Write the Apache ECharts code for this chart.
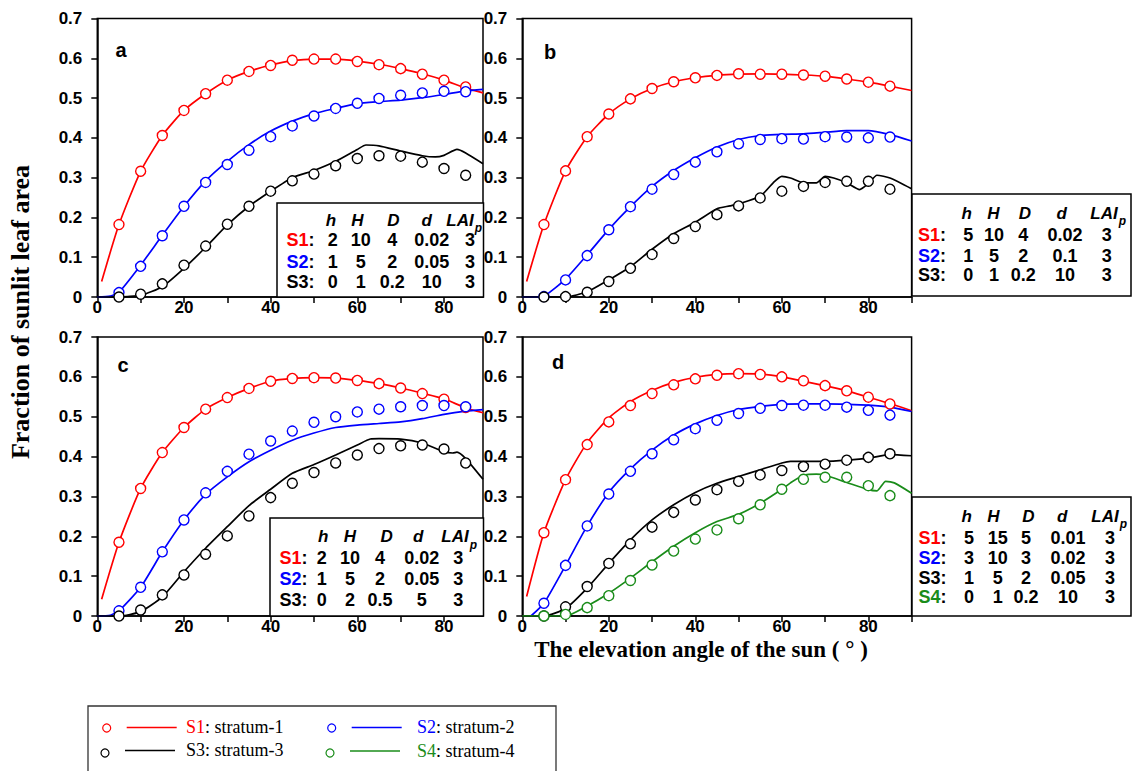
<!DOCTYPE html>
<html>
<head>
<meta charset="utf-8">
<script src="https://cdn.jsdelivr.net/npm/echarts@6/dist/echarts.min.js"></script>
<style>
html,body{margin:0;padding:0;background:#fff;}
#chart{position:absolute;left:0;top:0;width:1135px;height:771px;}
</style>
</head>
<body>
<div id="chart"></div>
<script>
// ---------------- DATA ----------------
const angles = [5,10,15,20,25,30,35,40,45,50,55,60,65,70,75,80,85];
const yTickLabels = ['0','0.1','0.2','0.3','0.4','0.5','0.6','0.7'];
const xTickLabels = [0,20,40,60,80];

// panel a
const aS1Pts = [0.182,0.316,0.406,0.469,0.511,0.545,0.567,0.582,0.595,0.598,0.598,0.592,0.584,0.574,0.560,0.545,0.528];
const aS2Pts = [0.011,0.077,0.154,0.228,0.288,0.333,0.369,0.403,0.430,0.455,0.474,0.487,0.499,0.507,0.513,0.517,0.516];
const aS3Pts = [0.000,0.007,0.033,0.080,0.128,0.183,0.228,0.266,0.292,0.309,0.330,0.348,0.355,0.354,0.339,0.323,0.306];
const aS1Line = [[1,0.039],[5,0.182],[10,0.316],[15,0.406],[20,0.469],[25,0.511],[30,0.545],[35,0.567],[40,0.583],[45,0.594],[50,0.598],[55,0.598],[60,0.593],[65,0.585],[70,0.574],[75,0.561],[80,0.545],[85,0.525],[89,0.513]];
const aS2Line = [[0,0],[3,0.002],[5,0.012],[10,0.080],[15,0.155],[20,0.228],[25,0.292],[30,0.341],[35,0.383],[40,0.417],[45,0.442],[50,0.461],[55,0.474],[60,0.486],[65,0.491],[70,0.495],[75,0.501],[80,0.509],[85,0.518],[89,0.522]];
const aS3Line = [[0,0],[5,0],[7,0.001],[10,0.004],[15,0.026],[20,0.072],[25,0.125],[30,0.181],[35,0.228],[40,0.266],[45,0.300],[50,0.318],[55,0.341],[60,0.371],[62,0.382],[65,0.380],[70,0.367],[75,0.355],[78,0.352],[80,0.356],[83,0.371],[85,0.362],[89,0.335]];

// panel b
const bS1Pts = [0.182,0.317,0.403,0.460,0.498,0.524,0.541,0.551,0.557,0.561,0.560,0.560,0.558,0.555,0.548,0.540,0.530];
const bS2Pts = [0.001,0.043,0.104,0.169,0.227,0.271,0.308,0.339,0.365,0.385,0.396,0.398,0.397,0.403,0.402,0.400,0.402];
const bS3Pts = [0.000,0.001,0.012,0.039,0.072,0.107,0.147,0.177,0.207,0.229,0.249,0.266,0.278,0.288,0.291,0.291,0.271];
const bS1Line = [[1,0.039],[5,0.182],[10,0.317],[15,0.403],[20,0.460],[25,0.498],[30,0.524],[35,0.541],[40,0.551],[45,0.557],[50,0.560],[55,0.561],[60,0.560],[65,0.558],[70,0.555],[75,0.548],[80,0.540],[85,0.530],[90,0.519]];
const bS2Line = [[0,0],[3,0],[5,0.002],[10,0.045],[15,0.106],[20,0.170],[25,0.227],[30,0.278],[35,0.318],[40,0.350],[45,0.377],[50,0.396],[55,0.406],[60,0.409],[65,0.410],[70,0.414],[75,0.418],[80,0.418],[85,0.408],[90,0.392]];
const bS3Line = [[0,0],[10,0],[15,0.013],[20,0.043],[25,0.076],[30,0.120],[35,0.159],[40,0.188],[45,0.222],[48,0.229],[50,0.234],[55,0.253],[58,0.287],[60,0.303],[62,0.299],[65,0.287],[68,0.287],[70,0.303],[72,0.299],[75,0.287],[78,0.270],[80,0.285],[82,0.306],[85,0.299],[90,0.272]];

// panel c
const cS1Pts = [0.185,0.320,0.410,0.473,0.519,0.548,0.571,0.589,0.596,0.598,0.597,0.591,0.583,0.572,0.558,0.544,0.523];
const cS2Pts = [0.013,0.072,0.161,0.241,0.309,0.363,0.406,0.439,0.464,0.486,0.500,0.512,0.519,0.525,0.528,0.528,0.525];
const cS3Pts = [0.000,0.015,0.053,0.103,0.155,0.201,0.251,0.297,0.333,0.360,0.384,0.404,0.420,0.427,0.429,0.419,0.384];
const cS1Line = [[1,0.042],[5,0.185],[10,0.320],[15,0.410],[20,0.473],[25,0.519],[30,0.548],[35,0.571],[40,0.589],[45,0.596],[50,0.598],[55,0.597],[60,0.591],[65,0.583],[70,0.572],[75,0.559],[80,0.545],[85,0.522],[89,0.510]];
const cS2Line = [[0,0],[3,0.002],[5,0.013],[10,0.072],[15,0.161],[20,0.241],[25,0.305],[30,0.349],[35,0.387],[40,0.416],[45,0.441],[50,0.459],[55,0.473],[60,0.479],[65,0.483],[70,0.487],[75,0.495],[80,0.506],[85,0.514],[89,0.518]];
const cS3Line = [[0,0],[5,0],[10,0.011],[15,0.048],[20,0.111],[25,0.170],[30,0.224],[35,0.277],[40,0.318],[45,0.358],[50,0.380],[55,0.404],[60,0.429],[63,0.444],[65,0.445],[70,0.444],[75,0.434],[80,0.412],[82,0.409],[83,0.411],[85,0.395],[89,0.343]];

// panel d
const dS1Pts = [0.209,0.342,0.430,0.487,0.528,0.558,0.580,0.595,0.604,0.608,0.606,0.600,0.590,0.578,0.565,0.549,0.532];
const dS2Pts = [0.032,0.127,0.226,0.306,0.363,0.407,0.442,0.470,0.491,0.508,0.521,0.528,0.529,0.529,0.524,0.516,0.504];
const dS3Pts = [0.000,0.023,0.074,0.132,0.181,0.223,0.260,0.291,0.317,0.338,0.354,0.365,0.375,0.381,0.391,0.398,0.407];
const dS4Pts = [0.000,0.004,0.021,0.051,0.089,0.128,0.163,0.193,0.216,0.244,0.279,0.318,0.343,0.348,0.348,0.327,0.302];
const dS1Line = [[1,0.049],[5,0.209],[10,0.342],[15,0.435],[20,0.497],[25,0.538],[30,0.566],[35,0.586],[40,0.599],[45,0.606],[50,0.608],[55,0.607],[60,0.600],[65,0.589],[70,0.578],[75,0.565],[80,0.549],[85,0.533],[90,0.515]];
const dS2Line = [[2,0],[5,0.032],[10,0.127],[15,0.226],[20,0.310],[25,0.369],[30,0.416],[35,0.454],[40,0.482],[45,0.503],[50,0.518],[55,0.526],[60,0.531],[65,0.532],[70,0.532],[75,0.531],[80,0.529],[85,0.524],[90,0.513]];
const dS3Line = [[0,0],[5,0],[10,0.019],[15,0.070],[20,0.132],[25,0.191],[30,0.241],[35,0.279],[40,0.310],[45,0.333],[50,0.350],[55,0.367],[60,0.384],[62,0.388],[65,0.388],[70,0.388],[75,0.391],[80,0.396],[85,0.405],[90,0.402]];
const dS4Line = [[0,0],[10,0],[15,0.025],[20,0.057],[25,0.095],[30,0.136],[35,0.175],[40,0.209],[45,0.237],[50,0.255],[55,0.283],[60,0.318],[62,0.334],[65,0.353],[68,0.356],[70,0.353],[75,0.335],[80,0.317],[82,0.314],[84,0.338],[86,0.334],[90,0.308]];

// tables
const tableHeaders = ['h','H','D','d','LAI'];
const tableA = [['2','10','4','0.02','3'],['1','5','2','0.05','3'],['0','1','0.2','10','3']];
const tableB = [['5','10','4','0.02','3'],['1','5','2','0.1','3'],['0','1','0.2','10','3']];
const tableC = [['2','10','4','0.02','3'],['1','5','2','0.05','3'],['0','2','0.5','5','3']];
const tableD = [['5','15','5','0.01','3'],['3','10','3','0.02','3'],['1','5','2','0.05','3'],['0','1','0.2','10','3']];
const strataNames = ['S1','S2','S3','S4'];
const legendTexts = ['stratum-1','stratum-2','stratum-3','stratum-4'];
const panelLetters = ['a','b','c','d'];
const yTitle = 'Fraction of sunlit leaf area';
const xTitle = 'The elevation angle of the sun ( \u00b0 )';

// ---------------- STYLE / LAYOUT ----------------
const COLORS = ['#ff0000','#0000ff','#000000','#1a8c1a'];
const SANS = '"Liberation Sans", Arial, sans-serif';
const SERIF = '"Liberation Serif", "Times New Roman", serif';

const grids = [
  {left:97.3, top:18.5, width:385.7, height:278.5, xmax:89},
  {left:522.3, top:18.5, width:389.3, height:278.5, xmax:90},
  {left:97.3, top:337, width:385.7, height:279, xmax:89},
  {left:522.3, top:337, width:389.3, height:279, xmax:90}
];

const panels = [
  {lines:[aS1Line,aS2Line,aS3Line], pts:[aS1Pts,aS2Pts,aS3Pts]},
  {lines:[bS1Line,bS2Line,bS3Line], pts:[bS1Pts,bS2Pts,bS3Pts]},
  {lines:[cS1Line,cS2Line,cS3Line], pts:[cS1Pts,cS2Pts,cS3Pts]},
  {lines:[dS1Line,dS2Line,dS3Line,dS4Line], pts:[dS1Pts,dS2Pts,dS3Pts,dS4Pts]}
];

const gridOpts=[], xAxes=[], yAxes=[], series=[];
grids.forEach((g,i)=>{
  gridOpts.push({left:g.left, top:g.top, width:g.width, height:g.height, show:true, borderColor:'#000', borderWidth:1.5, backgroundColor:'transparent', containLabel:false});
  const tickVals=[]; for(let v=0; v<=g.xmax; v+=10) tickVals.push(v);
  xAxes.push({
    type:'value', gridIndex:i, min:0, max:g.xmax, interval:10,
    axisLine:{show:true, onZero:false, lineStyle:{color:'#000', width:1.5}},
    axisTick:{show:true, length:6, lineStyle:{color:'#000', width:1.5}, customValues:tickVals},
    axisLabel:{customValues:xTickLabels, fontSize:17, fontWeight:'bold', fontFamily:SANS, color:'#000', margin:2,
      formatter:v=> (v%20===0 && v<=80) ? String(v) : ''},
    splitLine:{show:false}
  });
  yAxes.push({
    type:'value', gridIndex:i, min:0, max:0.7, interval:0.1,
    axisLine:{show:true, onZero:false, lineStyle:{color:'#000', width:1.5}},
    axisTick:{show:true, length:6, lineStyle:{color:'#000', width:1.5}},
    axisLabel:{fontSize:17, fontWeight:'bold', fontFamily:SANS, color:'#000', margin:15,
      formatter:v=> yTickLabels[Math.round(v*10)]},
    splitLine:{show:false}
  });
  const p=panels[i];
  p.lines.forEach((ln,k)=>{
    series.push({type:'line', xAxisIndex:i, yAxisIndex:i, data:ln, showSymbol:false, symbol:'none', smooth:0.2,
      lineStyle:{color:COLORS[k], width:1.7}, z:2, silent:true, animation:false});
  });
  p.pts.forEach((pv,k)=>{
    series.push({type:'scatter', xAxisIndex:i, yAxisIndex:i, data:angles.map((a,j)=>[a,pv[j]]), symbol:'circle', symbolSize:10,
      itemStyle:{color:'#fff', borderColor:COLORS[k], borderWidth:1.4, opacity:1}, z:3, silent:true, animation:false});
  });
});

// ---------------- GRAPHICS (tables, titles, legend) ----------------
const gfx=[];
function txt(x,y,text,font,fill,align,valign,extra){
  const e={type:'text', z:100, style:Object.assign({x:x,y:y,text:text,font:font,fill:fill||'#000',textAlign:align||'left',textVerticalAlign:valign||'middle',align:align||'left',verticalAlign:valign||'middle'}, extra||{})};
  gfx.push(e); return e;
}
const tableLayouts = [
  {left:277, top:203, right:483.5, bottom:297, headY:17, rowY:[37,58.7,79.3], labelX:9.5, headX:[54,80.3,116.3,149.7,183], valX:[55.7,83.7,115.3,154.7,193], pX:201.5, pY:25},
  {left:912, top:194, right:1131, bottom:296, headY:19.3, rowY:[41,61.5,81], labelX:6, headX:[54.7,81.3,113,149.7,192], valX:[56.3,82,111.3,153,194.7], pX:210.5, pY:27},
  {left:270, top:518, right:483.5, bottom:616, headY:18.7, rowY:[40.3,61,82], labelX:9.5, headX:[53.3,80,116.7,148.3,185], valX:[51.7,80,110,151.7,188.3], pX:203.5, pY:27},
  {left:912, top:497, right:1131, bottom:616, headY:19.7, rowY:[41.3,60.8,80.5,100.2], labelX:6.5, headX:[54.7,81.3,116.3,150.3,193], valX:[57,85.7,114,156,198], pX:211.5, pY:27}
];
const tables=[tableA,tableB,tableC,tableD];
const FT = 'bold 18px '+SANS;
const FTI = 'italic bold 17px '+SANS;
tables.forEach((tb,i)=>{
  const L=tableLayouts[i];
  gfx.push({type:'rect', z:90, shape:{x:L.left, y:L.top, width:L.right-L.left, height:L.bottom-L.top}, style:{fill:'#fff', stroke:'#000', lineWidth:1.5}});
  tableHeaders.forEach((h,k)=>txt(L.left+L.headX[k], L.top+L.headY, h, FTI, '#000', 'center'));
  txt(L.left+L.pX, L.top+L.pY, 'p', 'italic bold 12px '+SANS, '#000', 'center');
  tb.forEach((row,r)=>{
    txt(L.left+L.labelX, L.top+L.rowY[r], '{s|'+strataNames[r]+'}{k|:}', FT, '#000', 'left', 'middle',
      {rich:{s:{fill:COLORS[r], font:FT}, k:{fill:'#000', font:FT}}});
    row.forEach((v,k)=>txt(L.left+L.valX[k], L.top+L.rowY[r], v, FT, '#000', 'center'));
  });
});

// panel letters
const letterPos=[[121,50],[550,51.5],[123,365],[558,362]];
panelLetters.forEach((l,i)=>txt(letterPos[i][0], letterPos[i][1], l, 'bold 20px '+SANS, '#000', 'center'));

// axis titles
gfx.push({type:'text', z:100, x:20, y:312, rotation:Math.PI/2,
  style:{x:0,y:0,text:yTitle, font:'bold 26px '+SERIF, fill:'#000', textAlign:'center', align:'center', textVerticalAlign:'middle', verticalAlign:'middle'}});
txt(701, 649, xTitle, 'bold 23px '+SERIF, '#000', 'center');

// legend
gfx.push({type:'rect', z:90, shape:{x:88, y:706, width:468, height:75}, style:{fill:'#fff', stroke:'#333', lineWidth:1.3}});
const legendItems=[
  {cx:106.7, cy:728, lx:126.7, ly:727.5, tx:186, ty:727},
  {cx:331.7, cy:728, lx:351.7, ly:727.5, tx:417, ty:727},
  {cx:105,   cy:753, lx:125,   ly:750.5, tx:186, ty:750},
  {cx:330,   cy:753, lx:350,   ly:751,   tx:417, ty:751}
];
const LF = '18px '+SERIF;
legendItems.forEach((it,k)=>{
  gfx.push({type:'circle', z:100, shape:{cx:it.cx, cy:it.cy, r:4}, style:{fill:'#fff', stroke:COLORS[k], lineWidth:1.2}});
  gfx.push({type:'line', z:100, shape:{x1:it.lx, y1:it.ly, x2:it.lx+50, y2:it.ly}, style:{stroke:COLORS[k], lineWidth:1.3}});
  txt(it.tx, it.ty, '{s|'+strataNames[k]+'}{k|: '+legendTexts[k]+'}', LF, '#000', 'left', 'middle',
    {rich:{s:{fill:COLORS[k], font:LF}, k:{fill:'#000', font:LF}}});
});

const chart = echarts.init(document.getElementById('chart'), null, {renderer:'svg', width:1135, height:771});
chart.setOption({
  backgroundColor:'#fff',
  animation:false,
  grid:gridOpts, xAxis:xAxes, yAxis:yAxes, series:series,
  graphic:{elements:gfx}
});
</script>
</body>
</html>
